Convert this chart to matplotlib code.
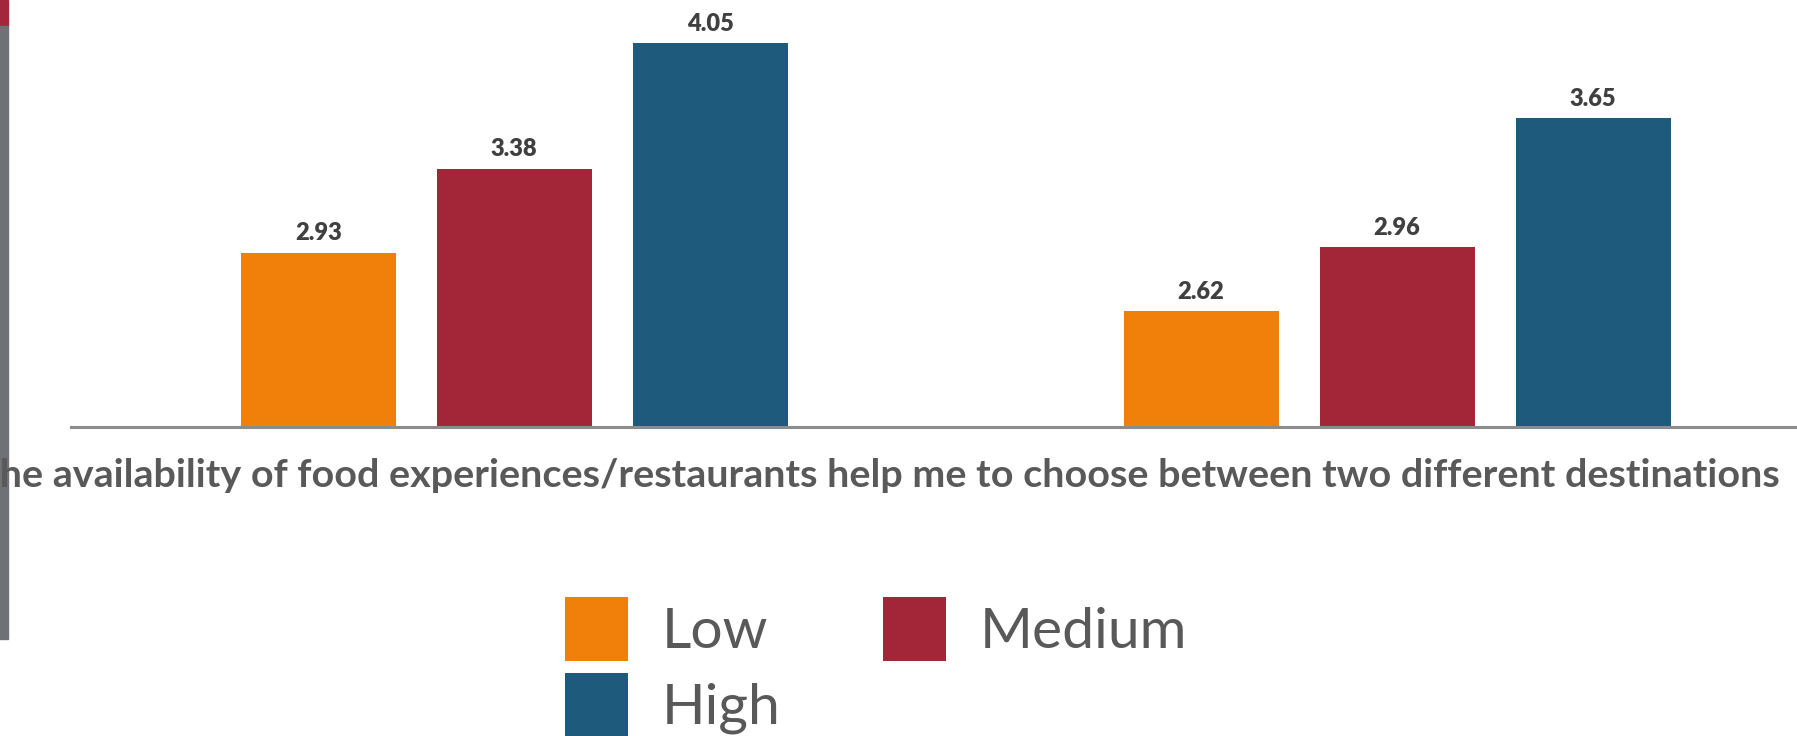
import matplotlib
matplotlib.use("Agg")
import matplotlib.pyplot as plt
from matplotlib.patches import Rectangle
import numpy as np

categories = ["The availability of food experiences/restaurants help me to choose between two different destinations", ""]
series = ["Low", "Medium", "High"]
low = [2.93, 2.62]
medium = [3.38, 2.96]
high = [4.05, 3.65]
colors = ["#F0800A", "#A32638", "#1D5A7C"]

W, H = 1797, 736
fig = plt.figure(figsize=(W / 100, H / 100), dpi=100)
ax = fig.add_axes([71 / W, (H - 427) / H, 1 - 71 / W, 427 / H])

x = np.arange(len(categories))
pitch = 0.222
bw = 0.1755
bars = []
for i, (vals, name) in enumerate(zip([low, medium, high], series)):
    b = ax.bar(x + (i - 1) * pitch, vals, width=bw, color=colors[i], label=name, zorder=2)
    bars.append(b)
    for rect, v in zip(b, vals):
        ax.annotate(f"{v:.2f}", (rect.get_x() + rect.get_width() / 2, v),
                    xytext=(0, 6), textcoords="offset points", ha="center", va="bottom",
                    fontsize=17, fontweight="heavy", color="#404040", family="Lato")

ax.set_ylim(2, 4.28)
ax.set_xlim(-0.502, 1.453)
for s in ["top", "left", "right"]:
    ax.spines[s].set_visible(False)
ax.spines["bottom"].set_color("#8C8C8C")
ax.spines["bottom"].set_linewidth(2.2)
ax.set_xticks([])
ax.set_yticks([])
ax.patch.set_alpha(0)

# category label
t = fig.text(1780 / W, 1 - 487 / H, categories[0], ha="right", va="baseline",
             fontsize=25, fontweight="bold", color="#595959", family="Lato")
fig.canvas.draw()
r = fig.canvas.get_renderer()
wpx = t.get_window_extent(r).width
t.set_fontsize(25 * 1805 / wpx)

# legend (column-major fill: Low, High | Medium)
order = [0, 2, 1]
leg = fig.legend(handles=[bars[k] for k in order], labels=[series[k] for k in order], ncol=2,
                 loc="upper left", bbox_to_anchor=(565 / W, 1 - 597 / H),
                 bbox_transform=fig.transFigure, frameon=False,
                 prop={"family": "Lato", "size": 41}, labelcolor="#595959",
                 handlelength=1.1, handleheight=1.34, handletextpad=0.6,
                 columnspacing=1.8, labelspacing=0.22, borderpad=0, borderaxespad=0)

# left decorative strip
fig.patches.append(Rectangle((0, 1 - 26 / H), 8 / W, 26 / H, transform=fig.transFigure,
                             color="#A4263A", zorder=0))
fig.patches.append(Rectangle((0, 1 - 639 / H), 8 / W, (639 - 26) / H, transform=fig.transFigure,
                             color="#6E7276", zorder=0))

fig.savefig("out.png", dpi=100)
